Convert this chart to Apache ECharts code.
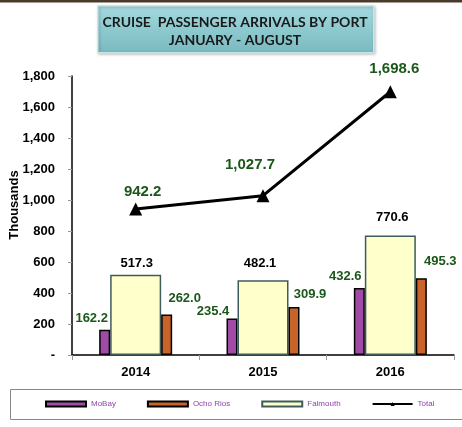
<!DOCTYPE html>
<html>
<head>
<meta charset="utf-8">
<script src="https://cdn.jsdelivr.net/npm/echarts@6/dist/echarts.min.js"></script>
<style>
  html, body { margin: 0; padding: 0; background: #fff; }
  #chart { width: 462px; height: 427px; }
</style>
</head>
<body>
<div id="chart"></div>
<script>
const years = ['2014', '2015', '2016'];
const moBay = [162.2, 235.4, 432.6];
const ochoRios = [262.0, 309.9, 495.3];
const falmouth = [517.3, 482.1, 770.6];
const total = [942.2, 1027.7, 1698.6];
const yTicks = { min: 0, max: 1800, interval: 200 };

const green = '#1b561b';
const fontFamily = '"Liberation Sans", Arial, sans-serif';
const fmt = v => v.toLocaleString('en-US', { minimumFractionDigits: 1, maximumFractionDigits: 1 });

// hand-placed label nudges, like the Excel original
function withOffsets(values, offsets) {
  return values.map((v, i) => ({ value: v, label: { offset: offsets[i] } }));
}

const chart = echarts.init(document.getElementById('chart'));

const barLabel = (color) => ({
  show: true,
  position: 'top',
  color: color,
  fontWeight: 'bold',
  fontSize: 13,
  fontFamily: fontFamily,
  formatter: p => fmt(p.value)
});

chart.setOption({
  animation: false,
  textStyle: { fontFamily: fontFamily },
  grid: { left: 72, right: 8, top: 76, bottom: 72 },
  graphic: [
    { type: 'rect', left: 0, top: 0, shape: { width: 462, height: 2.5 }, style: { fill: '#4a3a2a' } },
    {
      type: 'rect', left: 97, top: 5,
      shape: { width: 276, height: 47 },
      style: {
        fill: new echarts.graphic.LinearGradient(0, 0, 0, 1, [
          { offset: 0, color: '#a6d9dd' },
          { offset: 0.5, color: '#8ccad0' },
          { offset: 1, color: '#7ab9bf' }
        ]),
        stroke: '#c9e6e9', lineWidth: 1.5,
        shadowColor: 'rgba(0,0,0,0.25)', shadowBlur: 3, shadowOffsetX: 1, shadowOffsetY: 1
      }
    },
    {
      type: 'text', x: 235, y: 13,
      style: {
        text: 'CRUISE  PASSENGER ARRIVALS BY PORT\nJANUARY - AUGUST',
        font: 'bold 14px Lato, sans-serif',
        fill: '#1a1a1a', align: 'center', lineHeight: 18.5
      }
    },
    {
      type: 'text', x: 14, y: 205, rotation: Math.PI / 2,
      style: {
        text: 'Thousands', font: 'bold 13px ' + fontFamily,
        fill: '#000', align: 'center', verticalAlign: 'middle'
      }
    },
    {
      type: 'rect', left: 8, top: 387,
      shape: { width: 452, height: 30 },
      style: { fill: 'none', stroke: '#888', lineWidth: 1 }
    }
  ],
  legend: {
    left: 40, top: 395,
    itemWidth: 40, itemHeight: 5, itemGap: 31,
    data: [
      { name: 'MoBay', icon: 'rect' },
      { name: 'Ocho Rios', icon: 'rect' },
      { name: 'Falmouth', icon: 'rect' },
      { name: 'Total' }
    ],
    textStyle: { fontSize: 8, color: '#8e44a8', fontFamily: fontFamily }
  },
  xAxis: {
    type: 'category',
    data: years,
    axisLine: { lineStyle: { color: '#000', width: 1.5 } },
    axisTick: { show: true, length: 5, lineStyle: { color: '#999' } },
    axisLabel: { color: '#000', fontWeight: 'bold', fontSize: 13, margin: 11 }
  },
  yAxis: {
    type: 'value',
    min: yTicks.min, max: yTicks.max, interval: yTicks.interval,
    axisLine: { show: true, lineStyle: { color: '#000', width: 1.5 } },
    axisTick: { show: true, length: 4, lineStyle: { color: '#999' } },
    splitLine: { show: false },
    axisLabel: {
      color: '#000', fontWeight: 'bold', fontSize: 13, margin: 17,
      formatter: v => v === 0 ? '-' : v.toLocaleString('en-US')
    }
  },
  series: [
    {
      name: 'MoBay', type: 'bar', barWidth: 11, barGap: '0%',
      itemStyle: { color: '#a04ca6', borderColor: '#000', borderWidth: 1.5 },
      label: barLabel(green),
      data: withOffsets(moBay, [[-13, 0], [-19, 4], [-14, 0]])
    },
    {
      name: 'Falmouth', type: 'bar', barWidth: 51, barGap: '0%',
      itemStyle: { color: '#ffffcc', borderColor: '#3e5c5c', borderWidth: 1.5 },
      label: barLabel('#000'),
      data: withOffsets(falmouth, [[1, 0], [-3, -5], [2, -7]])
    },
    {
      name: 'Ocho Rios', type: 'bar', barWidth: 11, barGap: '0%',
      itemStyle: { color: '#c8642a', borderColor: '#000', borderWidth: 1.5 },
      label: barLabel(green),
      data: withOffsets(ochoRios, [[18, -4], [16, -1], [19, -5]])
    },
    {
      name: 'Total', type: 'line', z: 5,
      symbol: 'triangle', symbolSize: 13,
      lineStyle: { color: '#000', width: 3 },
      itemStyle: { color: '#000' },
      label: {
        show: true, position: 'top', color: green,
        fontWeight: 'bold', fontSize: 15, fontFamily: fontFamily,
        formatter: p => fmt(p.value)
      },
      data: withOffsets(total, [[7, 2], [-13, -12], [4, -4]])
    }
  ]
});
</script>
</body>
</html>
